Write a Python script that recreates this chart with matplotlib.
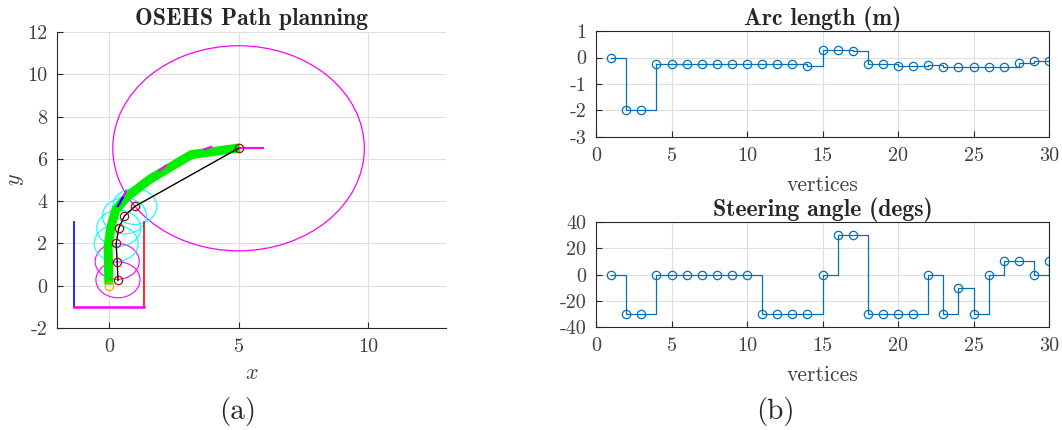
import numpy as np
import matplotlib
matplotlib.use('Agg')
import matplotlib.pyplot as plt
from matplotlib.patches import Circle

plt.rcParams['font.family'] = 'serif'
plt.rcParams['font.serif'] = ['cmr10']
plt.rcParams['mathtext.fontset'] = 'cm'
plt.rcParams['axes.formatter.use_mathtext'] = False
plt.rcParams['axes.unicode_minus'] = False

# ---- data: path planning (left) ----
green_x = [0.0, -0.03, 0.08, 0.27, 0.72, 1.56, 3.18, 5.05]
green_y = [0.05, 1.86, 2.80, 3.60, 4.23, 5.02, 6.20, 6.52]
node_x = [0.35, 0.32, 0.28, 0.38, 0.60, 1.00, 5.00]
node_y = [0.25, 1.12, 2.00, 2.72, 3.30, 3.75, 6.50]
circ_x = [0.35, 0.32, 0.28, 0.38, 0.60, 1.00]
circ_y = [0.28, 1.15, 2.00, 2.72, 3.30, 3.75]
circ_c = ['magenta', 'magenta', 'cyan', 'cyan', 'cyan', 'cyan']
goal_center = (5.0, 6.5)
goal_radius = 4.85
slot_left, slot_right, slot_bottom, slot_top = -1.35, 1.35, -1.0, 3.0
heading_segs = [((0.40, 0.66), (3.84, 4.47)), ((1.95, 2.2), (5.45, 5.68)),
                ((3.69, 3.95), (6.45, 6.57)), ((5.0, 5.95), (6.5, 6.5))]
blue_seg = ((0.34, 0.53), (3.76, 4.16))

# ---- data: arc length and steering (right) ----
vertices = np.arange(1, 31)
arc_len = [0, -1.97, -1.97, -0.25, -0.25, -0.25, -0.25, -0.25, -0.25, -0.25,
           -0.25, -0.25, -0.25, -0.32, 0.30, 0.30, 0.24, -0.25, -0.25, -0.32,
           -0.31, -0.30, -0.36, -0.36, -0.34, -0.34, -0.34, -0.20, -0.15, -0.15]
steer = [0, -30, -30, 0, 0, 0, 0, 0, 0, 0,
         -30, -30, -30, -30, 0, 30, 30, -30, -30, -30,
         -30, 0, -30, -10, -30, 0, 10, 10, 0, 10]

blue = '#0072BD'
tick_col = '#404040'
grid_col = '#dedede'

fig = plt.figure(figsize=(10.62, 4.30), dpi=100)


def style(ax, box=True):
    ax.tick_params(direction='in', colors='#262626', labelcolor=tick_col,
                   labelsize=14.5, length=4, width=0.8, pad=7)
    ax.grid(True, color=grid_col, linewidth=0.8)
    ax.set_axisbelow(True)
    for s in ax.spines.values():
        s.set_color('#262626')
        s.set_linewidth(0.8)
    if not box:
        ax.spines['top'].set_visible(False)
        ax.spines['right'].set_visible(False)


# left plot
ax = fig.add_axes([0.0537, 0.2372, 0.3663, 0.6884])
style(ax, box=False)
ax.add_patch(Circle(goal_center, goal_radius, fill=False, ec='magenta', lw=0.9))
for cx, cy, cc in zip(circ_x, circ_y, circ_c):
    ax.add_patch(Circle((cx, cy), 0.85, fill=False, ec=cc, lw=0.8))
ax.plot([slot_left, slot_left], [slot_bottom, slot_top], color='blue', lw=1.2)
ax.plot([slot_right, slot_right], [slot_bottom, slot_top], color='red', lw=1.2)
ax.plot([slot_left, slot_right], [slot_bottom, slot_bottom], color='magenta', lw=1.8)
ax.plot(green_x, green_y, color='#00ee00', lw=6.5, solid_capstyle='butt', zorder=3)
for (xs, ys) in heading_segs:
    ax.plot(xs, ys, color='magenta', lw=1.5, zorder=4)
ax.plot(blue_seg[0], blue_seg[1], color='blue', lw=1.5, zorder=4)
ax.plot(node_x, node_y, color='black', lw=1.0, zorder=5)
ax.plot(node_x, node_y, 'o', mfc='none', mec='#a01010', ms=6, mew=0.9, zorder=6)
ax.plot([0], [0], 'o', mfc='none', mec='orange', ms=6, mew=0.9, zorder=6)
ax.set_xlim(-2, 13)
ax.set_ylim(-2, 12)
ax.set_xticks([0, 5, 10])
ax.set_yticks(np.arange(-2, 13, 2))
ax.set_xlabel('$x$', fontsize=16, color=tick_col, labelpad=6)
ax.set_ylabel('$y$', fontsize=16, color=tick_col, labelpad=1)
ax.set_title('OSEHS Path planning', fontfamily='cmb10', fontsize=17,
             color='#262626', pad=5)

# right top
ax1 = fig.add_axes([0.5612, 0.6814, 0.4266, 0.2465])
style(ax1)
ax1.step(vertices, arc_len, where='post', color=blue, lw=0.9)
ax1.plot(vertices, arc_len, 'o', mfc='none', mec=blue, ms=6, mew=0.9)
ax1.set_xlim(0, 30)
ax1.set_ylim(-3, 1)
ax1.set_xticks(np.arange(0, 31, 5))
ax1.set_yticks(np.arange(-3, 2, 1))
ax1.set_xlabel('vertices', fontsize=15.5, color=tick_col, labelpad=8)
ax1.set_title('Arc length (m)', fontfamily='cmb10', fontsize=17,
              color='#262626', pad=4)

# right bottom
ax2 = fig.add_axes([0.5612, 0.2395, 0.4266, 0.2440])
style(ax2)
ax2.step(vertices, steer, where='post', color=blue, lw=0.9)
ax2.plot(vertices, steer, 'o', mfc='none', mec=blue, ms=6, mew=0.9)
ax2.set_xlim(0, 30)
ax2.set_ylim(-40, 40)
ax2.set_xticks(np.arange(0, 31, 5))
ax2.set_yticks(np.arange(-40, 41, 20))
ax2.set_xlabel('vertices', fontsize=15.5, color=tick_col, labelpad=8)
ax2.set_title('Steering angle (degs)', fontfamily='cmb10', fontsize=17,
              color='#262626', pad=4)

fig.text(0.224, 0.043, '(a)', fontsize=21, ha='center', va='center', color='#262626')
fig.text(0.730, 0.043, '(b)', fontsize=21, ha='center', va='center', color='#262626')

fig.savefig('out.png', dpi=100)
